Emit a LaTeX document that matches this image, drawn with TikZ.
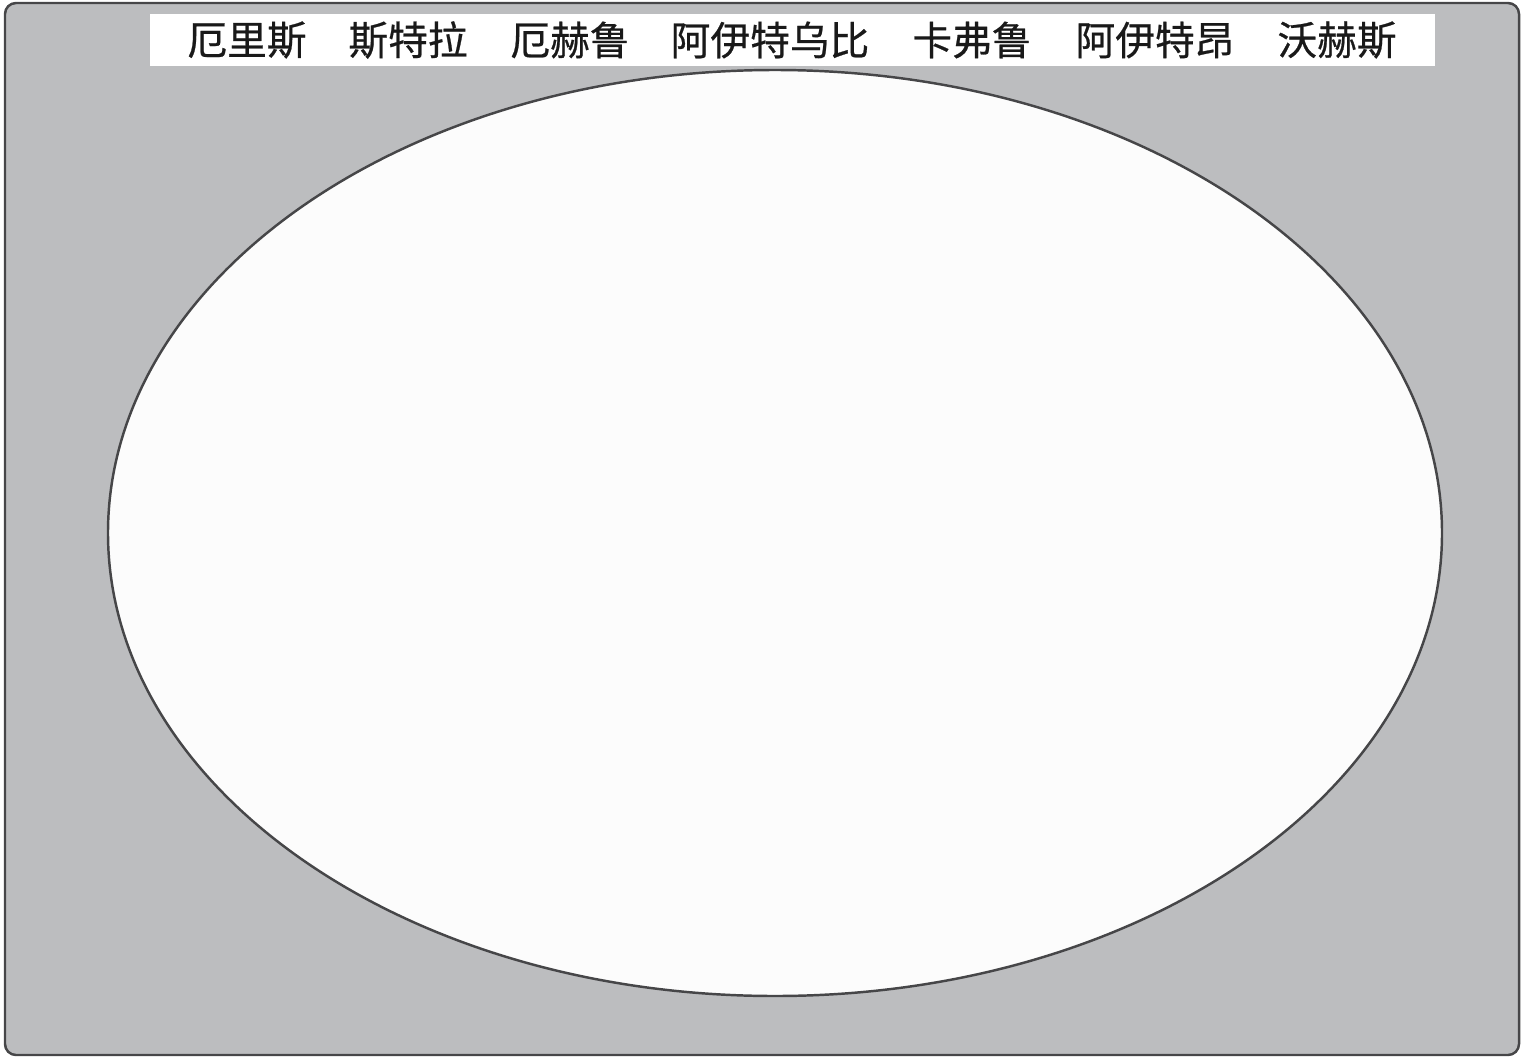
\documentclass[tikz,border=0pt]{standalone}
\usepackage{fontspec}
\newfontfamily\cjk[FakeBold=0.6]{Noto Sans CJK SC}
\usepackage{tikz}
\usetikzlibrary{shapes,positioning}
\usepackage{xcolor}
\definecolor{framegray}{RGB}{188,189,191}
\definecolor{edgegray}{RGB}{70,70,72}
\definecolor{fieldwhite}{RGB}{252,252,252}

\begin{document}
\begin{tikzpicture}[
    x=0.02cm, y=-0.02cm,
    placename/.style={font=\cjk\fontsize{22.6}{24}\selectfont, text=black!90, inner sep=0pt},
    strip/.style={fill=white, draw=none},
    field/.style={draw=edgegray, line width=1.4pt, fill=fieldwhite}
]
    \useasboundingbox (0,0) rectangle (1521,1058);
    \draw[fill=framegray, draw=edgegray, line width=1.4pt, rounded corners=0.22cm] (5,3) rectangle (1519,1055);
    \node[strip, minimum width=25.7cm, minimum height=1.04cm, inner sep=0pt] (band) at (792.5,40) {};
    \draw[field] (775,533) ellipse [x radius=667, y radius=463];

    \node[placename] (eris) at (247,40) {厄里斯};
    \node[placename] (stra) at (408,40) {斯特拉};
    \node[placename] (ehru) at (570,40) {厄赫鲁};
    \node[placename] (aitw) at (770,40) {阿伊特乌比};
    \node[placename] (kafr) at (972,40) {卡弗鲁};
    \node[placename] (aita) at (1155,40) {阿伊特昂};
    \node[placename] (wohs) at (1337,40) {沃赫斯};
\end{tikzpicture}
\end{document}
